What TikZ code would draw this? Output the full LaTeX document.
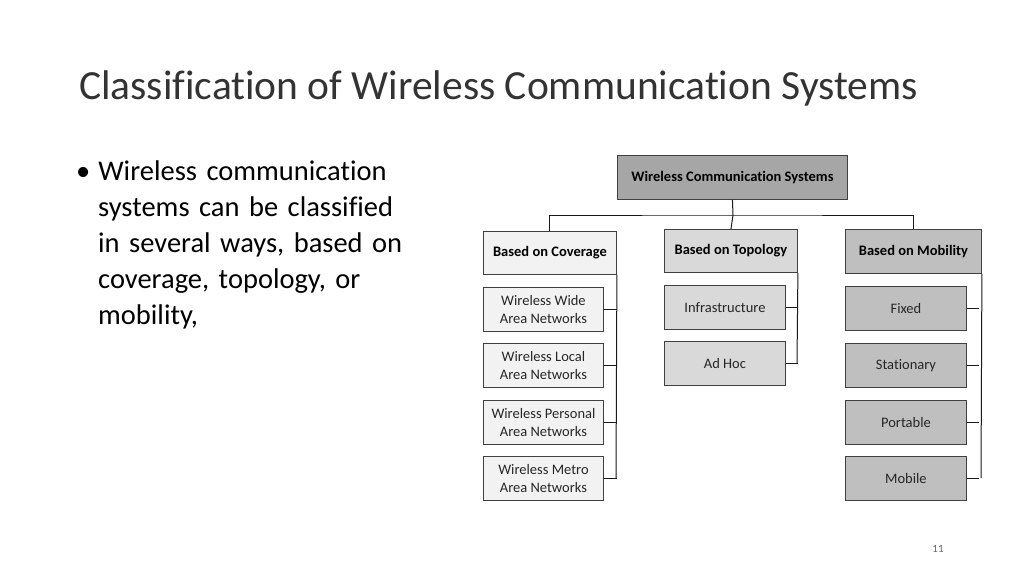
\documentclass[tikz,border=0pt]{standalone}
\usepackage{fontspec}
\setmainfont{Carlito}[Ligatures={NoCommon}]
\begin{document}
\begin{tikzpicture}[x=1pt,y=-1pt,
 bx/.style={draw=black!75,line width=0.9pt,inner sep=0pt,align=center,font=\fontsize{14.5}{18}\selectfont,text=black!85},
 hd/.style={bx,font=\fontsize{14.5}{18}\selectfont\bfseries,text=black},
 ln/.style={draw=black!90,line width=1pt}]
\useasboundingbox (0,0) rectangle (1024,576);
\node[anchor=base west,font=\fontsize{41.5}{48}\selectfont,text=black!80,inner sep=0pt] (title) at (79,99) {Classification of Wireless Communication Systems};
\node[anchor=north west,align=left,font=\fontsize{28.5}{36}\selectfont,text width=360pt,inner sep=0pt] (bul) at (76,161) {\raggedright\textbullet\hspace{8pt}Wireless communication\\\hspace*{22pt}systems can be classified\\\hspace*{22pt}in several ways, based on\\\hspace*{22pt}coverage, topology, or\\\hspace*{22pt}mobility,};
\node[font=\fontsize{11}{12}\selectfont,text=black!60] (pg) at (938,549) {11};
\node[hd,fill=black!35,minimum width=230pt,minimum height=44pt,anchor=north west] (root) at (617,155) {Wireless Communication Systems};
\node[hd,fill=black!5,minimum width=133pt,minimum height=43pt,anchor=north west] (cov) at (483,231) {Based on Coverage};
\node[hd,fill=black!15,minimum width=133pt,minimum height=43pt,anchor=north west] (top) at (664,229) {Based on Topology};
\node[hd,fill=black!25,minimum width=136pt,minimum height=44pt,anchor=north west] (mob) at (845,229) {Based on Mobility};
\coordinate (hj) at (733,215);
\draw[ln] (root.south) -- (hj);
\draw[ln] (cov.north) |- (hj) -| (mob.north);
\draw[ln] (hj) -- (top.north);
\foreach \n/\y/\t in {c1/287/{Wireless Wide\\Area Networks},c2/343/{Wireless Local\\Area Networks},c3/400/{Wireless Personal\\Area Networks},c4/456/{Wireless Metro\\Area Networks}}{
 \node[bx,fill=black!5,minimum width=120pt,minimum height=44pt,anchor=north west] (\n) at (483,\y) {\t};
 \draw[ln] (\n.east) -- ++(13,0);}
\draw[ln] (cov.south east) -- (616,478);
\foreach \n/\y/\t in {t1/285/Infrastructure,t2/341/Ad Hoc}{
 \node[bx,fill=black!15,minimum width=121pt,minimum height=44pt,anchor=north west] (\n) at (664,\y) {\t};
 \draw[ln] (\n.east) -- ++(12,0);}
\draw[ln] (top.south east) -- (797,363);
\foreach \n/\y/\t in {m1/286/Fixed,m2/343/Stationary,m3/400/Portable,m4/456/Mobile}{
 \node[bx,fill=black!25,minimum width=121pt,minimum height=44pt,anchor=north west] (\n) at (845,\y) {\t};
 \draw[ln] (\n.east) -- ++(12,0);}
\draw[ln] (mob.south east) -- (981,478);
\end{tikzpicture}
\end{document}
